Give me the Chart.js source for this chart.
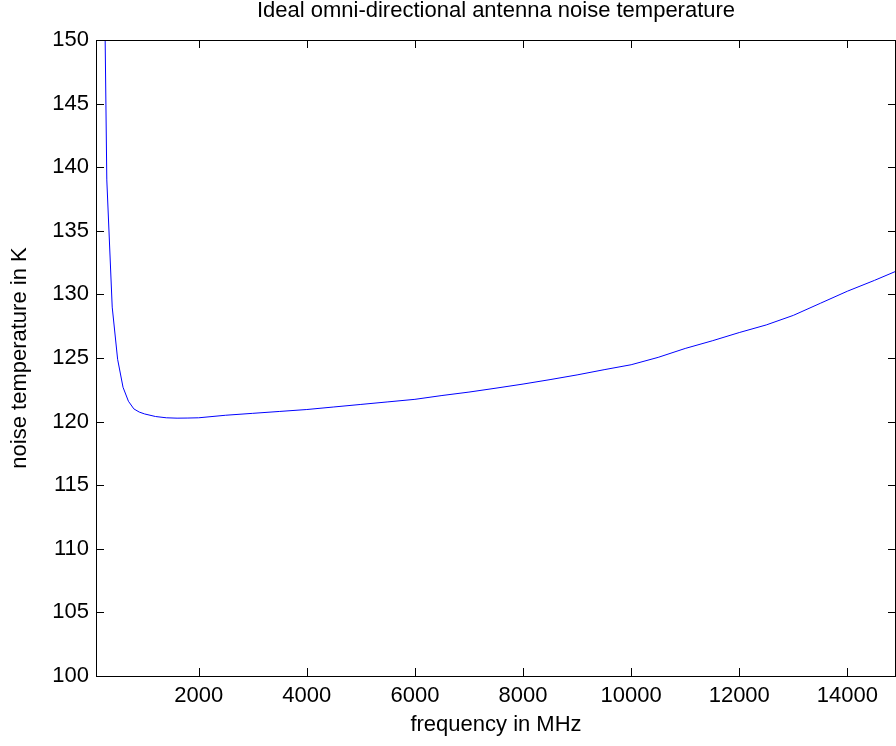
<!DOCTYPE html>
<html>
<head>
<meta charset="utf-8">
<title>Ideal omni-directional antenna noise temperature</title>
<script src="https://cdn.jsdelivr.net/npm/chart.js@4.4.1/dist/chart.umd.min.js"></script>
<style>
    html, body { margin: 0; padding: 0; background: #fff; }
    #wrap { width: 896px; height: 746px; position: relative; }
</style>
</head>
<body>
<div id="wrap"><canvas id="noiseChart"></canvas></div>
<script>
// Antenna noise temperature vs frequency
const freqMHz = [100, 200, 300, 400, 500, 600, 700, 800, 900, 1000,
    1200, 1400, 1600, 1800, 2000, 2500, 3000, 3500, 4000, 4500,
    5000, 5500, 6000, 6500, 7000, 7500, 8000, 8500, 9000, 9500,
    10000, 10500, 11000, 11500, 12000, 12500, 13000, 13500, 14000, 14500, 15000];
const noiseTempK = [300, 175, 139, 129, 124.9, 122.7, 121.6, 121.0, 120.75, 120.6,
    120.4, 120.3, 120.27, 120.28, 120.3, 120.5, 120.65, 120.8, 120.95, 121.15,
    121.35, 121.55, 121.75, 122.05, 122.32, 122.63, 122.95, 123.3, 123.67, 124.08,
    124.47, 125.05, 125.75, 126.35, 127.0, 127.6, 128.35, 129.3, 130.25, 131.1, 132.0];
const xTicks = [2000, 4000, 6000, 8000, 10000, 12000, 14000];
const yTicks = [100, 105, 110, 115, 120, 125, 130, 135, 140, 145, 150];

const FONT = "'Liberation Sans', Arial, Helvetica, sans-serif";
const TICK_LEN = 8;

// axes box with inward ticks on all four sides
const frameBox = {
    id: 'frameBox',
    afterDatasetsDraw(chart) {
        const { ctx, chartArea: a, scales: { x, y } } = chart;
        ctx.save();
        ctx.strokeStyle = '#000';
        ctx.lineWidth = 1;
        ctx.beginPath();
        ctx.rect(a.left + 0.5, a.top + 0.5, a.right - a.left - 1, a.bottom - a.top);
        xTicks.forEach(v => {
            const px = Math.round(x.getPixelForValue(v)) + 0.5;
            ctx.moveTo(px, a.bottom);
            ctx.lineTo(px, a.bottom - TICK_LEN);
            ctx.moveTo(px, a.top);
            ctx.lineTo(px, a.top + TICK_LEN);
        });
        yTicks.forEach(v => {
            const py = Math.round(y.getPixelForValue(v)) + 0.5;
            ctx.moveTo(a.left, py);
            ctx.lineTo(a.left + TICK_LEN, py);
            ctx.moveTo(a.right, py);
            ctx.lineTo(a.right - TICK_LEN, py);
        });
        ctx.stroke();
        ctx.restore();
    }
};

const ctx = document.getElementById('noiseChart');

new Chart(ctx, {
    type: 'line',
    data: {
        datasets: [{
            data: freqMHz.map((f, i) => ({ x: f, y: noiseTempK[i] })),
            borderColor: '#0000ff',
            borderWidth: 1,
            pointRadius: 0,
            tension: 0,
            fill: false
        }]
    },
    options: {
        responsive: true,
        maintainAspectRatio: false,
        animation: false,
        layout: { padding: 0 },
        plugins: {
            legend: { display: false },
            tooltip: { enabled: false },
            title: {
                display: true,
                text: 'Ideal omni-directional antenna noise temperature',
                color: '#000',
                fullSize: false,
                font: { family: FONT, size: 22, weight: 'normal', lineHeight: 1 },
                padding: { top: 0, bottom: 18 }
            }
        },
        scales: {
            x: {
                type: 'linear',
                min: 100,
                max: 14900,
                grid: { display: false, drawTicks: false },
                border: { display: false },
                afterBuildTicks: scale => { scale.ticks = xTicks.map(v => ({ value: v })); },
                afterFit: scale => { scale.height = 70; },
                ticks: {
                    color: '#000',
                    padding: 7,
                    maxRotation: 0,
                    autoSkip: false,
                    font: { family: FONT, size: 22 },
                    callback: value => String(value)
                },
                title: {
                    display: true,
                    text: 'frequency in MHz',
                    color: '#000',
                    font: { family: FONT, size: 22 },
                    padding: { top: 0, bottom: 8 }
                }
            },
            y: {
                min: 100,
                max: 150,
                grid: { display: false, drawTicks: false },
                border: { display: false },
                afterBuildTicks: scale => { scale.ticks = yTicks.map(v => ({ value: v })); },
                afterFit: scale => { scale.width = 96; },
                ticks: {
                    color: '#000',
                    padding: 7,
                    autoSkip: false,
                    font: { family: FONT, size: 22 },
                    callback: value => String(value)
                },
                title: {
                    display: true,
                    text: 'noise temperature in K',
                    color: '#000',
                    font: { family: FONT, size: 22 },
                    padding: { top: 7, bottom: 0 }
                }
            }
        }
    },
    plugins: [frameBox]
});
</script>
</body>
</html>
